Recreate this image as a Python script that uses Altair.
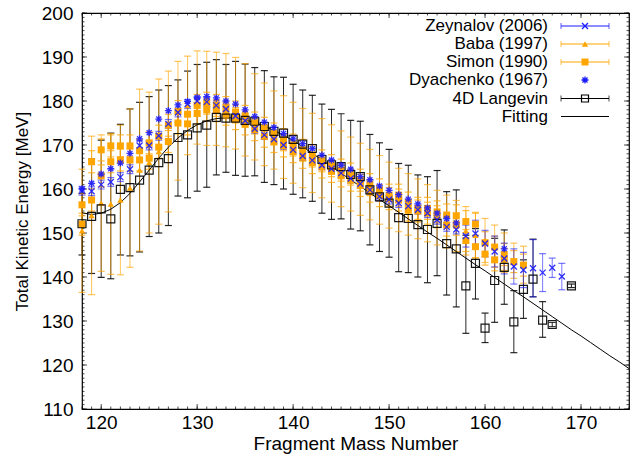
import altair as alt
import pandas as pd

# ---------------- data ----------------
lan_mass = list(range(118, 168)) + [169]
lan_tke = [152.1, 153.8, 155.5, 153.2, 159.9, 160.3, 162.0, 164.3, 166.0, 166.9,
           171.7, 172.3, 173.9, 174.5, 176.3, 176.1, 176.1, 175.6, 175.4, 174.2,
           173.1, 172.7, 171.3, 170.2, 169.2, 166.7, 165.5, 165.1, 163.3, 162.8,
           159.8, 158.2, 156.8, 153.5, 153.3, 151.9, 150.8, 152.2, 147.6, 146.4,
           138.0, 143.1, 128.4, 139.2, 142.2, 129.8, 137.2, 139.5, 130.2, 129.2, 138.0]
lan_lo = [145.0, 140.8, 139.9, 139.6, 145.0, 144.8, 145.7, 149.2, 150.0, 151.7,
          158.4, 158.0, 159.5, 160.4, 163.2, 163.8, 163.1, 162.9, 163.0, 161.5,
          161.0, 160.0, 158.8, 158.0, 157.2, 154.5, 153.1, 153.2, 150.9, 150.5,
          147.3, 145.8, 144.5, 141.2, 141.0, 140.0, 138.7, 140.3, 135.9, 133.2,
          127.2, 135.0, 125.1, 129.7, 133.8, 122.8, 130.6, 135.5, 126.3, 128.7, 137.6]
lan_hi = [159.0, 166.8, 171.1, 172.7, 174.7, 178.2, 179.7, 181.0, 182.5, 183.5,
          184.8, 186.8, 188.3, 188.8, 189.4, 188.3, 189.0, 188.4, 187.6, 186.9,
          185.5, 185.4, 183.8, 182.5, 181.3, 179.3, 178.1, 177.1, 175.6, 175.4,
          172.4, 170.5, 169.0, 165.8, 165.4, 163.2, 162.8, 164.2, 159.4, 159.8,
          149.5, 151.0, 131.8, 148.8, 150.7, 136.9, 143.9, 148.6, 134.4, 129.7, 138.4]

fit_mass = list(range(118, 176))
fit_tke = [154.6, 154.2, 154.5, 155.4, 156.9, 159.0, 161.6, 164.3, 167.0, 169.5,
           171.6, 173.3, 174.6, 175.5, 176.0, 176.2, 176.1, 175.7, 175.1, 174.3,
           173.3, 172.2, 171.0, 169.6, 168.1, 166.6, 165.1, 163.6, 162.1, 160.6,
           159.1, 157.6, 156.2, 154.7, 153.2, 151.7, 150.2, 148.8, 147.3, 145.8,
           144.3, 142.8, 141.4, 139.9, 138.4, 136.9, 135.5, 134.0, 132.5, 131.0,
           129.5, 128.0, 126.6, 125.1, 123.6, 122.1, 120.7, 119.2]

zey_mass = list(range(118, 169))
zey_tke = [159.6, 159.5, 161.0, 161.6, 162.7, 164.5, 169.9, 169.9, 172.1, 174.8,
           177.4, 179.3, 180.0, 179.8, 179.0, 178.2, 176.6, 175.5, 173.7, 172.3,
           171.3, 170.0, 168.9, 167.5, 166.5, 165.4, 164.6, 163.6, 162.4, 161.2,
           159.8, 158.3, 157.6, 156.8, 156.1, 155.3, 154.5, 153.0, 151.4, 150.8,
           149.3, 149.9, 147.6, 145.8, 144.2, 142.4, 141.6, 142.0, 141.0, 142.1, 140.1]
zey_err = [1.0] * 40 + [2.5, 3.0, 3.0, 3.5, 3.5, 4.0, 4.0, 6.5, 4.3, 2.2, 3.0]

dya_mass = list(range(118, 158)) + [162]
dya_tke = [160.0, 161.3, 163.4, 164.6, 165.9, 168.1, 171.4, 172.8, 175.9, 177.8,
           179.1, 179.9, 180.8, 181.0, 180.7, 180.0, 179.3, 178.0, 176.5, 175.2,
           174.0, 172.6, 171.4, 170.3, 169.2, 167.7, 166.6, 165.4, 164.5, 162.8,
           162.1, 160.7, 159.7, 158.7, 157.7, 156.6, 155.7, 154.5, 153.3, 152.3, 146.4]

sim_mass = [118, 118, 119, 119, 120, 120, 121, 121, 122, 122, 123, 123, 124, 124,
            125, 125, 126, 126, 127, 127, 128, 128, 129, 129, 130, 130, 131, 131,
            132, 132, 133, 133, 134, 134, 135, 135, 136, 136, 137, 137, 138, 138,
            139, 139, 140, 140, 141, 141, 142, 142, 143, 143, 144, 144, 145, 145,
            146, 146, 147, 147, 148, 148, 149, 149, 150, 150, 151, 151, 152, 152,
            153, 153, 154, 154, 155, 155, 156, 156, 157, 157, 158, 158, 159, 159,
            160, 160, 161, 161, 162, 162, 163, 164]
sim_tke = [156.4, 152.0, 166.2, 157.5, 168.9, 163.0, 169.8, 166.2, 169.8, 166.6,
           169.8, 166.6, 168.7, 166.6, 170.5, 167.0, 172.0, 169.5, 174.5, 170.8,
           177.6, 175.0, 177.0, 174.8, 179.0, 177.2, 179.5, 178.0, 179.0, 177.8,
           178.5, 177.0, 177.5, 176.0, 176.5, 174.8, 175.0, 173.5, 173.8, 172.0,
           172.5, 170.8, 171.2, 169.8, 170.0, 168.5, 168.8, 167.2, 167.5, 166.0,
           166.4, 165.0, 165.3, 164.0, 164.3, 163.0, 163.4, 162.0, 162.0, 160.8,
           161.0, 159.5, 159.8, 158.5, 158.6, 157.8, 158.6, 157.5, 156.8, 155.2,
           155.6, 155.0, 155.6, 154.5, 154.8, 153.7, 154.1, 151.8, 153.9, 152.0,
           152.6, 148.3, 152.0, 146.9, 147.8, 145.2, 146.8, 143.9, 145.1, 144.0,
           143.5, 142.7]
sim_err = [2.5] * len(sim_tke)

baba_mass = list(range(118, 165))
baba_tke = [150.5, 154.0, 156.8, 156.6, 157.5, 160.2, 164.3, 166.0, 168.5, 170.8,
            175.5, 179.0, 180.8, 180.6, 180.5, 180.2, 179.5, 178.0, 176.4, 174.7,
            173.4, 171.8, 170.5, 169.3, 168.2, 167.0, 165.8, 164.6, 163.4, 162.2,
            161.0, 159.8, 158.6, 157.5, 156.5, 155.5, 154.5, 153.5, 152.6, 151.6,
            150.5, 149.5, 148.3, 147.0, 145.5, 143.7, 142.8]
baba_err = [14.0, 18.0, 15.5, 16.0, 17.0, 18.0, 18.4, 16.0, 16.5, 16.0,
            13.5, 11.2, 10.6, 10.7, 10.6, 10.6, 10.4, 10.5, 9.8, 9.4,
            8.9, 9.4, 9.2, 9.0, 9.0, 9.0, 8.8, 8.6, 8.4, 8.2,
            8.0, 7.8, 7.5, 7.2, 7.0, 6.8, 6.5, 6.2, 6.0, 5.8,
            5.5, 5.2, 5.0, 4.8, 4.5, 4.0, 4.2]

legend_labels = ["Zeynalov (2006)", "Baba (1997)", "Simon (1990)",
                 "Dyachenko (1967)", "4D Langevin", "Fitting"]

x_major = [120, 130, 140, 150, 160, 170]
y_major = [110, 120, 130, 140, 150, 160, 170, 180, 190, 200]
x_minor = list(range(118, 176))
y_minor = list(range(110, 201))

# ---------------- style ----------------
W, H = 547, 396
FONT = "Liberation Sans"
BLUE = "#1a1aff"
ORANGE = "#ffa500"
ASTER = "M-1,0L1,0M0,-1L0,1M-0.72,-0.72L0.72,0.72M-0.72,0.72L0.72,-0.72"
XMARK = "M-1,-1L1,1M-1,1L1,-1"

xs = alt.Scale(domain=[118, 175], nice=False, zero=False)
ys = alt.Scale(domain=[110, 200], nice=False, zero=False)
xaxis = alt.Axis(values=x_major, ticks=False, domain=False, grid=False,
                 labelFont=FONT, labelFontSize=19, labelColor="black", labelPadding=4,
                 title="Fragment Mass Number", titleFont=FONT, titleFontSize=19,
                 titleFontWeight="normal", titleColor="black", titlePadding=2)
yaxis = alt.Axis(values=y_major, ticks=False, domain=False, grid=False,
                 labelFont=FONT, labelFontSize=19, labelColor="black", labelPadding=9,
                 title="Total Kinetic Energy [MeV]", titleFont=FONT, titleFontSize=17,
                 titleFontWeight="normal", titleColor="black", titlePadding=10)


def X(f):
    return alt.X(f + ":Q", scale=xs, axis=xaxis)


def Y(f):
    return alt.Y(f + ":Q", scale=ys, axis=yaxis)


def errbars(df, color, opacity, cap=7, width=1.0):
    rule = alt.Chart(df).mark_rule(color=color, opacity=opacity, strokeWidth=width).encode(
        x=X("m"), y=Y("lo"), y2="hi")
    c1 = alt.Chart(df).mark_tick(orient="horizontal", size=cap, thickness=1.2,
                                 color=color, opacity=opacity).encode(x=X("m"), y=Y("lo"))
    c2 = alt.Chart(df).mark_tick(orient="horizontal", size=cap, thickness=1.2,
                                 color=color, opacity=opacity).encode(x=X("m"), y=Y("hi"))
    return [rule, c1, c2]


lan = pd.DataFrame({"m": lan_mass, "e": lan_tke, "lo": lan_lo, "hi": lan_hi})
fit = pd.DataFrame({"m": fit_mass, "e": fit_tke})
zey = pd.DataFrame({"m": zey_mass, "e": zey_tke})
zey["lo"] = [a - b for a, b in zip(zey_tke, zey_err)]
zey["hi"] = [a + b for a, b in zip(zey_tke, zey_err)]
dya = pd.DataFrame({"m": dya_mass, "e": dya_tke})
sim = pd.DataFrame({"m": sim_mass, "e": sim_tke})
sim["lo"] = [a - b for a, b in zip(sim_tke, sim_err)]
sim["hi"] = [a + b for a, b in zip(sim_tke, sim_err)]
baba = pd.DataFrame({"m": baba_mass, "e": baba_tke})
baba["lo"] = [a - b for a, b in zip(baba_tke, baba_err)]
baba["hi"] = [a + b for a, b in zip(baba_tke, baba_err)]

layers = []
# axis ticks (inward, all four sides)
xmin_df = pd.DataFrame({"t": x_minor})
xmaj_df = pd.DataFrame({"t": x_major})
ymin_df = pd.DataFrame({"t": y_minor})
ymaj_df = pd.DataFrame({"t": y_major})
for df, L in [(xmin_df, 2.5), (xmaj_df, 5.0)]:
    for yy in [H - L / 2, L / 2]:
        layers.append(alt.Chart(df).mark_tick(orient="vertical", size=L, thickness=1,
                                              color="black").encode(x=X("t"), y=alt.value(yy)))
for df, L in [(ymin_df, 2.5), (ymaj_df, 5.0)]:
    for xx in [L / 2, W - L / 2]:
        layers.append(alt.Chart(df).mark_tick(orient="horizontal", size=L, thickness=1,
                                              color="black").encode(y=Y("t"), x=alt.value(xx)))

layers += errbars(lan, "black", 0.85)
layers += errbars(baba, ORANGE, 0.65)
layers += errbars(sim, ORANGE, 0.75)
layers += errbars(zey, BLUE, 0.6)

layers.append(alt.Chart(fit).mark_line(color="black", strokeWidth=1, clip=True).encode(
    x=X("m"), y=Y("e")))
layers.append(alt.Chart(baba).mark_point(shape="triangle-up", filled=True, size=40,
                                         color=ORANGE, opacity=1).encode(x=X("m"), y=Y("e")))
layers.append(alt.Chart(sim).mark_point(shape="square", filled=True, size=49,
                                        color=ORANGE, opacity=1).encode(x=X("m"), y=Y("e")))
layers.append(alt.Chart(lan).mark_point(shape="square", filled=False, size=64, color="black",
                                        strokeWidth=1.2, opacity=0.9).encode(x=X("m"), y=Y("e")))
layers.append(alt.Chart(dya).mark_point(shape=ASTER, filled=False, size=49, color=BLUE,
                                        strokeWidth=1.3, opacity=0.9).encode(x=X("m"), y=Y("e")))
layers.append(alt.Chart(zey).mark_point(shape=XMARK, filled=False, size=36, color=BLUE,
                                        strokeWidth=1.3, opacity=0.9).encode(x=X("m"), y=Y("e")))

# ---------------- legend (manual, top right) ----------------
one = pd.DataFrame({"k": [0]})
row_y = [13, 31, 49, 67, 85.5, 103.5]
tx, lx1, lx2, mx = 466, 479, 527, 503
styles = [
    (BLUE, True, dict(shape=XMARK, filled=False, size=36, strokeWidth=1.3)),
    (ORANGE, True, dict(shape="triangle-up", filled=True, size=40)),
    (ORANGE, True, dict(shape="square", filled=True, size=49)),
    (BLUE, False, dict(shape=ASTER, filled=False, size=49, strokeWidth=1.3)),
    ("black", True, dict(shape="square", filled=False, size=49, strokeWidth=1.2)),
    ("black", None, None),
]
for lab, yy, (col, bars, pt) in zip(legend_labels, row_y, styles):
    layers.append(alt.Chart(one).mark_text(align="right", baseline="middle", font=FONT,
                                           fontSize=17, color="black").encode(
        x=alt.value(tx), y=alt.value(yy), text=alt.value(lab)))
    if bars is not False:
        layers.append(alt.Chart(one).mark_rule(color=col, strokeWidth=1).encode(
            x=alt.value(lx1), x2=alt.value(lx2), y=alt.value(yy)))
    if bars:
        for xx in [lx1, lx2]:
            layers.append(alt.Chart(one).mark_tick(orient="vertical", size=6, thickness=1,
                                                   color=col).encode(
                x=alt.value(xx), y=alt.value(yy)))
    if pt is not None:
        layers.append(alt.Chart(one).mark_point(color=col, opacity=1, **pt).encode(
            x=alt.value(mx), y=alt.value(yy)))

chart = alt.layer(*layers).properties(
    width=W, height=H,
    padding={"left": 82, "top": 13, "right": 4, "bottom": 46},
    autosize=alt.AutoSizeParams(type="none"),
    background="white",
).configure_view(stroke="black", strokeWidth=1.2)

chart.save("out.html", embed_options={"renderer": "svg", "actions": False})
